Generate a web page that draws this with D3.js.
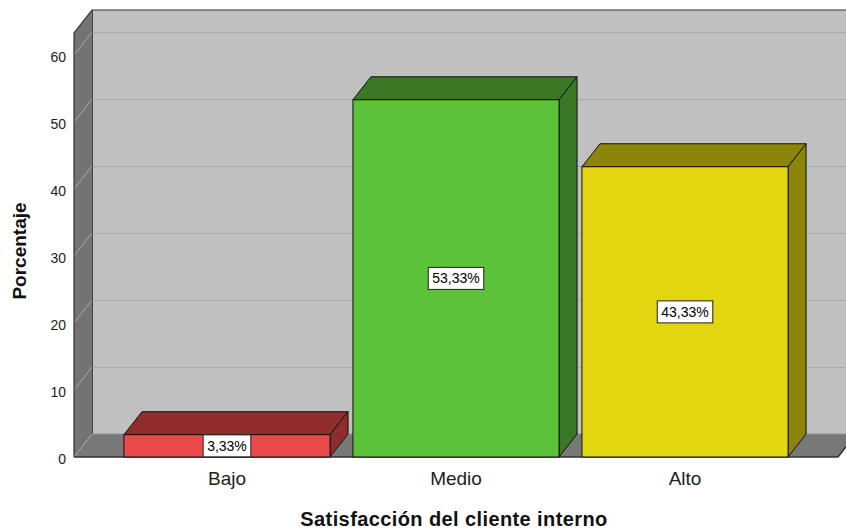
<!DOCTYPE html>
<html><head><meta charset="utf-8">
<script src="https://cdn.jsdelivr.net/npm/d3@7"></script>
<style>body{margin:0;background:#fff}svg{display:block;font-family:"Liberation Sans",Arial,sans-serif}</style>
</head><body><svg id="c" width="846" height="531"></svg>
<script>
const categories = ["Bajo", "Medio", "Alto"];
const values = [3.33, 53.33, 43.33];
const valueLabels = ["3,33%", "53,33%", "43,33%"];
const yTicks = [0, 10, 20, 30, 40, 50, 60];
const frontColors = ["#ea4a4a", "#5cc23a", "#e2d610"];
const darkColors = ["#912c2c", "#3a7924", "#8b850a"];
const xTitle = "Satisfacción del cliente interno";
const yTitle = "Porcentaje";

const svg = d3.select("#c");
const DX = 18, DY = -23;
const x0 = 74, x1 = 838;
const y = d3.scaleLinear().domain([0, 63.3]).range([457, 33]);
const x = d3.scaleBand().domain(categories).range([x0, x1]).paddingInner(0.1).paddingOuter(0.218);

const yb = v => y(v) + DY;
// back wall
svg.append("rect").attr("x", x0 + DX).attr("y", y.range()[1] + DY).attr("width", 900).attr("height", y(0) - y.range()[1]).attr("fill", "#c0c0c0");
// left wall
svg.append("path").attr("d", `M${x0},${y(0)}L${x0},${y.range()[1]}L${x0+DX},${y.range()[1]+DY}L${x0+DX},${y(0)+DY}Z`).attr("fill", "#737373");
// floor
svg.append("path").attr("d", `M${x0},${y(0)}L${x1},${y(0)}L${x1+DX},${y(0)+DY}L${x0+DX},${y(0)+DY}Z`).attr("fill", "#787878");
// gridlines
yTicks.filter(t => t > 0).forEach(t => {
  svg.append("line").attr("x1", x0 + DX).attr("x2", 900).attr("y1", yb(t) + 0.5).attr("y2", yb(t) + 0.5).attr("stroke", "#aaaaaa").attr("stroke-width", 1);
  svg.append("line").attr("x1", x0).attr("y1", y(t)).attr("x2", x0 + DX).attr("y2", yb(t)).attr("stroke", "#a8a8a8").attr("stroke-width", 1);
});
svg.append("line").attr("x1", x0).attr("y1", y(0)).attr("x2", x0 + DX).attr("y2", yb(0)).attr("stroke", "#a8a8a8");
// frame edges
svg.append("path").attr("d", `M${x0},${y(0)}L${x0},${y.range()[1]}L${x0+DX},${y.range()[1]+DY}L900,${y.range()[1]+DY}`).attr("fill", "none").attr("stroke", "#333").attr("stroke-width", 1.2);
svg.append("line").attr("x1", x0 + DX + 0.5).attr("x2", x0 + DX + 0.5).attr("y1", y.range()[1] + DY).attr("y2", yb(0)).attr("stroke", "#444");
svg.append("line").attr("x1", x0 + DX).attr("x2", 900).attr("y1", yb(0)).attr("y2", yb(0)).attr("stroke", "#909090");
svg.append("path").attr("d", `M${x0},${y(0)}L${x1},${y(0)}L${x1+DX},${y(0)+DY}`).attr("fill", "none").attr("stroke", "#333").attr("stroke-width", 1.5);

// bars
const g = svg.append("g");
categories.forEach((c, i) => {
  const bx = x(c), bw = x.bandwidth(), top = y(values[i]), bot = y(0);
  const bar = g.append("g");
  bar.append("path").attr("d", `M${bx},${top}L${bx+DX},${top+DY}L${bx+bw+DX},${top+DY}L${bx+bw},${top}Z`).attr("fill", darkColors[i]).attr("stroke", "#111").attr("stroke-width", 1).attr("stroke-linejoin", "round");
  bar.append("path").attr("d", `M${bx+bw},${top}L${bx+bw+DX},${top+DY}L${bx+bw+DX},${bot+DY}L${bx+bw},${bot}Z`).attr("fill", darkColors[i]).attr("stroke", "#111").attr("stroke-width", 1).attr("stroke-linejoin", "round");
  bar.append("rect").attr("x", bx).attr("y", top).attr("width", bw).attr("height", bot - top).attr("fill", frontColors[i]).attr("stroke", "#111").attr("stroke-width", 1);
  const cx = bx + bw / 2, cy = (top + bot) / 2;
  const t = bar.append("text").attr("x", cx).attr("y", cy).attr("text-anchor", "middle").attr("dominant-baseline", "central").attr("font-size", 14).attr("fill", "#000").text(valueLabels[i]);
  const w = t.node().getComputedTextLength();
  bar.insert("rect", "text").attr("x", cx - w / 2 - 4).attr("y", cy - 11).attr("width", w + 8).attr("height", 22).attr("fill", "#fff").attr("stroke", "#222").attr("stroke-width", 1);
});

// y tick labels
svg.append("g").selectAll("text").data(yTicks).join("text")
  .attr("x", 66).attr("y", d => y(d) + 2).attr("text-anchor", "end").attr("dominant-baseline", "central")
  .attr("font-size", 14).attr("fill", "#222").text(d => d);
// x category labels
svg.append("g").selectAll("text").data(categories).join("text")
  .attr("x", d => x(d) + x.bandwidth() / 2).attr("y", 478).attr("text-anchor", "middle").attr("dominant-baseline", "central")
  .attr("font-size", 19).attr("fill", "#222").text(d => d);
// titles
svg.append("text").attr("x", 454).attr("y", 519).attr("text-anchor", "middle").attr("dominant-baseline", "central")
  .attr("font-size", 20).attr("letter-spacing", 0.4).attr("font-weight", "bold").attr("fill", "#111").text(xTitle);
svg.append("text").attr("transform", "translate(19,251) rotate(-90)").attr("text-anchor", "middle").attr("dominant-baseline", "central")
  .attr("font-size", 19).attr("font-weight", "bold").attr("fill", "#111").text(yTitle);
</script></body></html>
